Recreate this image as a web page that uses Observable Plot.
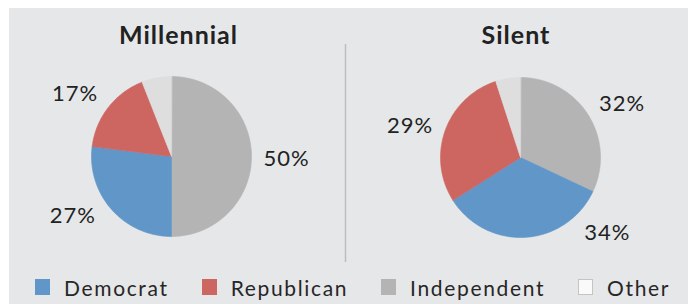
<!DOCTYPE html>
<html>
<head>
<meta charset="utf-8">
<script src="https://cdn.jsdelivr.net/npm/d3@7"></script>
<script src="https://cdn.jsdelivr.net/npm/@observablehq/plot@0.6"></script>
<style>
  html, body { margin: 0; padding: 0; background: #ffffff; }
  #chart { position: absolute; left: 9px; top: 8px; width: 679px; height: 296px; background: #e6e7e9; overflow: hidden; }
  #chart svg { display: block; background: transparent; }
  #chart svg text { letter-spacing: 1px; }
  .legend { display: flex; align-items: center; height: 34px; padding-left: 26px; font-family: Lato, sans-serif; font-size: 21px; letter-spacing: 1.65px; color: #262626; white-space: nowrap; }
  .legend .item { display: flex; align-items: center; margin-right: 33px; }
  .legend .sw { width: 15px; height: 16px; margin-right: 14px; box-sizing: border-box; }
</style>
</head>
<body>
<div id="chart"></div>
<script>
// ---- data ----
const generations = ["Millennial", "Silent"];
const categories = ["Independent", "Democrat", "Republican", "Other"];
const millennialValues = [50, 27, 17, 6];
const silentValues = [32, 34, 29, 5];
const legendOrder = ["Democrat", "Republican", "Independent", "Other"];
const colors = ["#b4b4b4", "#6096c8", "#cd6660", "#dededf"];

// ---- layout (svg pixel space) ----
const W = 679, H = 262;
const radius = 80;
const labelRadius = 115;
const layout = {
  Millennial: { cx: 162, cy: 148, titleX: 169, labelAngles: [91, 239, 303, null] },
  Silent:     { cx: 511, cy: 149, titleX: 506.5, labelAngles: [62, 131, 286, null] }
};
const valuesBy = { Millennial: millennialValues, Silent: silentValues };

const pie = d3.pie().sort(null).value(d => d.value);
const slicePts = [];
const labels = [];
for (const g of generations) {
  const rows = categories.map((c, i) => ({ gen: g, cat: c, value: valuesBy[g][i] }));
  const L = layout[g];
  pie(rows).forEach((a, i) => {
    const key = g + "-" + a.data.cat;
    slicePts.push({ key, cat: a.data.cat, x: L.cx, y: L.cy });
    const n = Math.max(2, Math.ceil((a.endAngle - a.startAngle) / (Math.PI / 180)));
    for (let k = 0; k <= n; k++) {
      const t = a.startAngle + (a.endAngle - a.startAngle) * k / n;
      slicePts.push({ key, cat: a.data.cat, x: L.cx + radius * Math.sin(t), y: L.cy - radius * Math.cos(t) });
    }
    const la = L.labelAngles[i];
    if (la != null) {
      const t = la * Math.PI / 180;
      labels.push({ text: a.data.value + "%", x: L.cx + labelRadius * Math.sin(t), y: L.cy - labelRadius * Math.cos(t) });
    }
  });
}
const titles = generations.map(g => ({ text: g, x: layout[g].titleX, y: 27.5 }));

const plot = Plot.plot({
  width: W, height: H,
  margin: 0,
  x: { domain: [0, W], range: [0, W], axis: null },
  y: { domain: [0, H], range: [0, H], axis: null },
  color: { domain: categories, range: colors },
  style: { background: "transparent", fontFamily: "Lato, sans-serif" },
  marks: [
    Plot.line(slicePts, { x: "x", y: "y", z: "key", fill: "cat", stroke: "cat", strokeWidth: 0.6, curve: "linear-closed" }),
    Plot.ruleX([336], { y1: 36, y2: 254, stroke: "#bdbdbd", strokeWidth: 1.5 }),
    Plot.text(labels, { x: "x", y: "y", text: "text", fontSize: 22, fill: "#222", textAnchor: "middle" }),
    Plot.text(titles, { x: "x", y: "y", text: "text", fontSize: 25, fontWeight: "bold", fill: "#222", textAnchor: "middle" })
  ]
});

const chart = document.getElementById("chart");
chart.appendChild(plot);

const legend = document.createElement("div");
legend.className = "legend";
for (const c of legendOrder) {
  const item = document.createElement("div");
  item.className = "item";
  const sw = document.createElement("div");
  sw.className = "sw";
  if (c === "Other") { sw.style.background = "#fafafa"; sw.style.border = "1px solid #c4c4c4"; }
  else sw.style.background = colors[categories.indexOf(c)];
  const tx = document.createElement("span");
  tx.textContent = c;
  item.appendChild(sw); item.appendChild(tx);
  legend.appendChild(item);
}
chart.appendChild(legend);
</script>
</body>
</html>
